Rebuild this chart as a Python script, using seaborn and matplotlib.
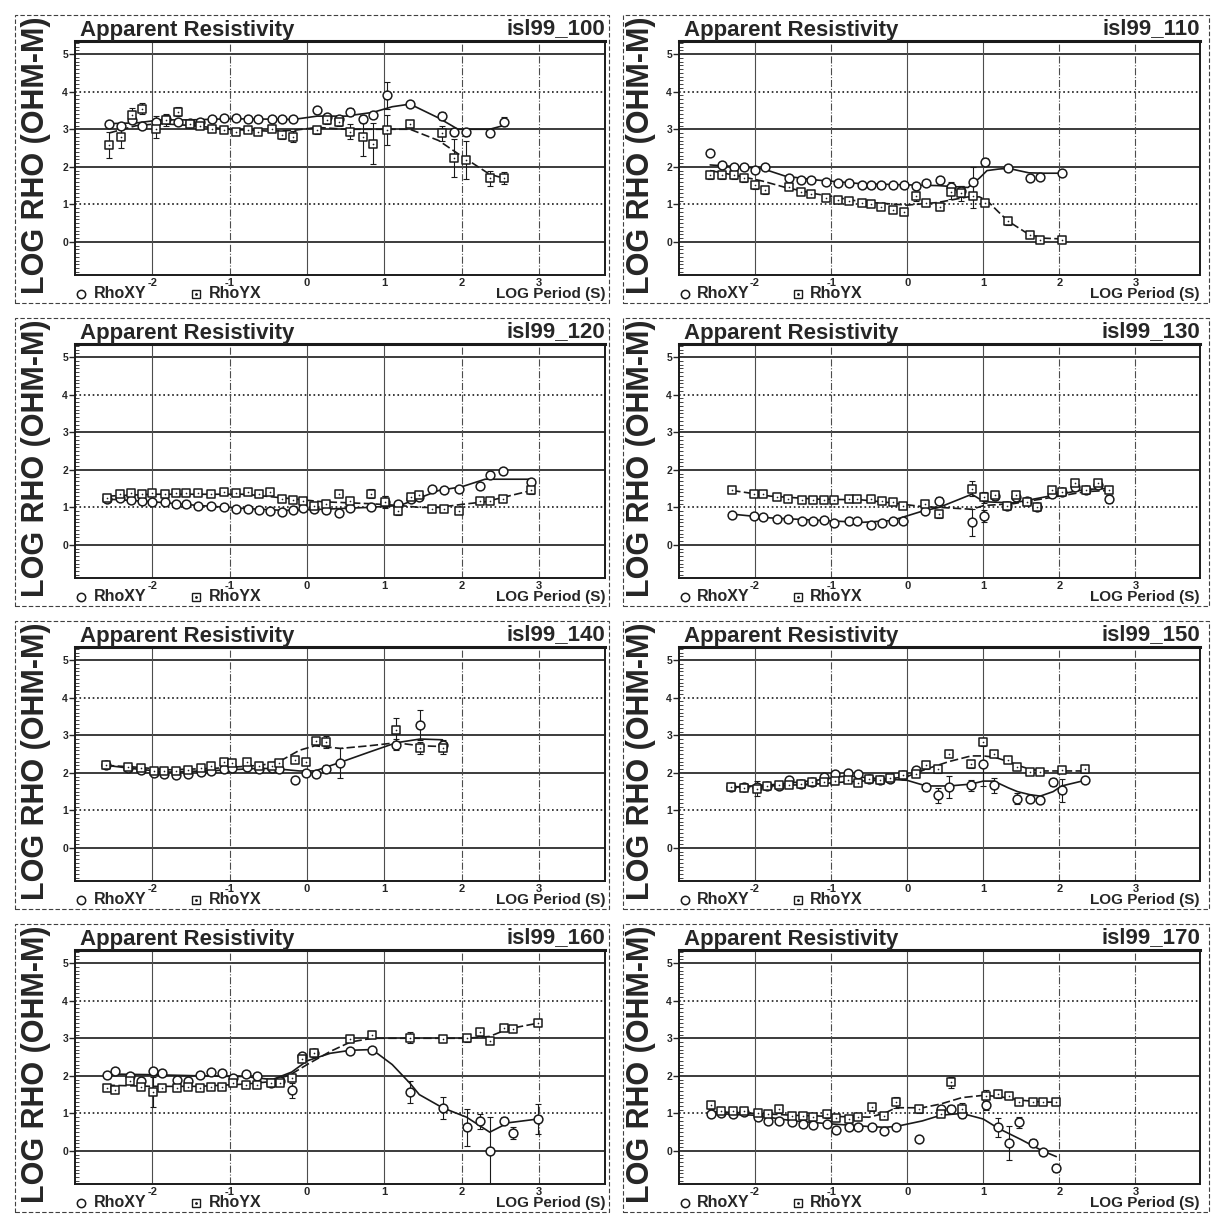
import numpy as np
import pandas as pd
import seaborn as sns
import matplotlib.pyplot as plt
from matplotlib import font_manager
from matplotlib.patches import Rectangle
from matplotlib.ticker import MultipleLocator

nan = np.nan

SITES = ["isl99_100", "isl99_110", "isl99_120", "isl99_130",
         "isl99_140", "isl99_150", "isl99_160", "isl99_170"]

# ---- isl99_100 ----
t100 = [-2.56, -2.41, -2.26, -2.13, -1.95, -1.82, -1.67, -1.52, -1.38, -1.23, -1.08, -0.92, -0.77, -0.64, -0.46,
        -0.33, -0.18, 0.13, 0.26, 0.41, 0.56, 0.72, 0.85, 1.03, 1.33, 1.74, 1.90, 2.05, 2.36, 2.54]
xy100 = [3.15, 3.1, 3.24, 3.1, 3.2, 3.28, 3.2, 3.18, 3.2, 3.28, 3.31, 3.31, 3.28, 3.27, 3.28,
         3.27, 3.28, 3.5, 3.33, 3.28, 3.46, 3.28, 3.37, 3.9, 3.68, 3.35, 2.93, 2.93, 2.89, 3.2]
yx100 = [2.58, 2.8, 3.37, 3.55, 3.02, 3.25, 3.46, 3.15, 3.1, 3.02, 2.98, 2.93, 2.98, 2.93, 3.02,
         2.84, 2.8, 2.98, 3.24, 3.2, 2.93, 2.8, 2.62, 2.98, 3.15, 2.89, 2.23, 2.18, 1.7, 1.7]
exy100 = [0.05, 0.06, 0.08, 0.06, 0.15, 0.05, 0.06, 0.05, 0.05, 0.05, 0.05, 0.05, 0.05, 0.05, 0.05,
          0.05, 0.05, 0.06, 0.08, 0.06, 0.1, 0.1, 0.08, 0.35, 0.06, 0.1, 0.1, 0.1, 0.08, 0.12]
eyx100 = [0.35, 0.3, 0.2, 0.15, 0.25, 0.15, 0.12, 0.1, 0.08, 0.06, 0.06, 0.05, 0.06, 0.05, 0.06,
          0.1, 0.15, 0.1, 0.1, 0.1, 0.2, 0.5, 0.55, 0.4, 0.1, 0.2, 0.5, 0.5, 0.2, 0.15]
mt100 = [-2.56, -2.2, -1.9, -1.5, -1.0, -0.5, -0.18, 0.13, 0.5, 0.85, 1.1, 1.33, 1.7, 1.95, 2.36, 2.54]
mxy100 = [3.15, 3.17, 3.25, 3.25, 3.28, 3.27, 3.26, 3.35, 3.35, 3.45, 3.6, 3.67, 3.3, 3.0, 3.0, 3.1]
myx100 = [2.9, 3.1, 3.15, 3.1, 3.0, 2.95, 2.97, 3.05, 3.0, 3.0, 3.0, 3.0, 2.7, 2.35, 1.8, 1.7]

# ---- isl99_110 ----
t110 = [-2.59, -2.43, -2.28, -2.15, -2.0, -1.87, -1.56, -1.40, -1.27, -1.07, -0.91, -0.76, -0.60, -0.47,
        -0.35, -0.19, -0.04, 0.12, 0.25, 0.43, 0.58, 0.71, 0.87, 1.02, 1.33, 1.61, 1.74, 2.03]
xy110 = [2.38, 2.06, 2.0, 2.0, 1.91, 2.0, 1.69, 1.65, 1.65, 1.6, 1.56, 1.56, 1.52, 1.52,
         1.52, 1.52, 1.52, 1.5, 1.56, 1.65, 1.45, 1.35, 1.6, 2.13, 1.96, 1.69, 1.74, 1.83]
yx110 = [1.78, 1.78, 1.78, 1.69, 1.52, 1.38, 1.47, 1.34, 1.27, 1.16, 1.12, 1.08, 1.03, 1.0,
         0.92, 0.86, 0.81, 1.21, 1.03, 0.94, 1.34, 1.3, 1.21, 1.03, 0.55, 0.19, 0.06, 0.04]
exy110 = [0.05, 0.08, 0.08, 0.06, 0.06, 0.05, 0.08, 0.05, 0.05, 0.05, 0.04, 0.04, 0.04, 0.04,
          0.04, 0.04, 0.04, 0.06, 0.05, 0.08, 0.15, 0.15, 0.4, 0.1, 0.06, 0.06, 0.06, 0.06]
eyx110 = [0.1, 0.1, 0.1, 0.1, 0.1, 0.1, 0.1, 0.06, 0.06, 0.06, 0.05, 0.05, 0.05, 0.05,
          0.05, 0.05, 0.08, 0.12, 0.08, 0.1, 0.2, 0.2, 0.3, 0.08, 0.1, 0.08, 0.08, 0.08]
mt110 = [-2.59, -2.2, -1.9, -1.6, -1.2, -0.6, 0.0, 0.4, 0.8, 0.95, 1.05, 1.2, 1.33, 1.6, 1.8, 2.03]
mxy110 = [2.05, 2.0, 1.95, 1.75, 1.65, 1.55, 1.52, 1.5, 1.45, 1.7, 1.9, 1.94, 1.96, 1.84, 1.83, 1.83]
myx110 = [1.9, 1.75, 1.62, 1.45, 1.28, 1.07, 0.98, 1.05, 1.2, 1.2, 1.1, 0.8, 0.55, 0.2, 0.1, 0.08]

# ---- isl99_120 ----
t120 = [-2.58, -2.42, -2.28, -2.14, -2.0, -1.84, -1.7, -1.57, -1.41, -1.24, -1.08, -0.92, -0.76, -0.62, -0.48,
        -0.32, -0.18, -0.05, 0.09, 0.25, 0.41, 0.55, 0.83, 1.01, 1.18, 1.34, 1.45, 1.61, 1.77, 1.96,
        2.24, 2.37, 2.53, 2.9]
xy120 = [1.23, 1.25, 1.2, 1.18, 1.15, 1.14, 1.1, 1.08, 1.05, 1.03, 1.0, 0.97, 0.95, 0.93, 0.9,
         0.88, 0.93, 0.98, 0.95, 0.93, 0.85, 0.98, 1.02, 1.15, 1.09, 1.23, 1.27, 1.5, 1.45, 1.5,
         1.56, 1.86, 1.97, 1.68]
yx120 = [1.25, 1.36, 1.38, 1.36, 1.38, 1.36, 1.38, 1.38, 1.38, 1.36, 1.41, 1.38, 1.41, 1.35, 1.41,
         1.23, 1.2, 1.18, 1.05, 1.09, 1.35, 1.18, 1.36, 1.14, 0.9, 1.27, 1.32, 0.95, 0.95, 0.91,
         1.18, 1.18, 1.23, 1.45]
exy120 = [0.05, 0.05, 0.05, 0.05, 0.05, 0.05, 0.05, 0.05, 0.05, 0.05, 0.05, 0.05, 0.05, 0.05, 0.05,
          0.05, 0.05, 0.06, 0.06, 0.06, 0.08, 0.06, 0.1, 0.15, 0.08, 0.06, 0.06, 0.06, 0.06, 0.06,
          0.06, 0.06, 0.06, 0.08]
eyx120 = [0.05, 0.05, 0.05, 0.05, 0.05, 0.05, 0.05, 0.05, 0.05, 0.05, 0.05, 0.05, 0.05, 0.05, 0.05,
          0.05, 0.05, 0.06, 0.06, 0.06, 0.08, 0.06, 0.12, 0.15, 0.1, 0.06, 0.06, 0.06, 0.06, 0.06,
          0.06, 0.06, 0.06, 0.1]
mt120 = [-2.58, -2.0, -1.4, -0.8, -0.3, 0.2, 0.8, 1.2, 1.45, 1.7, 2.0, 2.3, 2.6, 2.9]
mxy120 = [1.22, 1.15, 1.05, 0.97, 0.92, 0.95, 1.0, 1.05, 1.25, 1.45, 1.55, 1.75, 1.75, 1.75]
myx120 = [1.3, 1.35, 1.35, 1.35, 1.25, 1.15, 1.1, 1.05, 1.0, 1.0, 1.08, 1.15, 1.3, 1.45]

# ---- isl99_130 ----
t130 = [-2.30, -2.02, -1.90, -1.71, -1.57, -1.38, -1.24, -1.10, -0.96, -0.77, -0.66, -0.47, -0.33, -0.19, -0.05,
        0.23, 0.42, 0.85, 1.01, 1.15, 1.31, 1.43, 1.57, 1.71, 1.90, 2.04, 2.21, 2.35, 2.51, 2.65]
xy130 = [0.8, 0.77, 0.75, 0.68, 0.68, 0.65, 0.65, 0.66, 0.59, 0.64, 0.64, 0.53, 0.59, 0.64, 0.64,
         0.91, 1.18, 0.6, 0.77, 1.3, 1.05, 1.27, 1.18, 1.0, 1.36, 1.41, 1.55, 1.45, 1.59, 1.23]
yx130 = [1.45, 1.36, 1.36, 1.27, 1.23, 1.2, 1.2, 1.2, 1.2, 1.23, 1.22, 1.23, 1.18, 1.14, 1.05,
         1.09, 0.82, 1.5, 1.27, 1.32, 1.05, 1.32, 1.15, 1.0, 1.45, 1.4, 1.64, 1.45, 1.64, 1.45]
exy130 = [0.04, 0.04, 0.04, 0.04, 0.04, 0.04, 0.04, 0.04, 0.04, 0.04, 0.04, 0.04, 0.04, 0.04, 0.04,
          0.06, 0.1, 0.35, 0.15, 0.1, 0.08, 0.08, 0.06, 0.06, 0.06, 0.06, 0.08, 0.06, 0.06, 0.1]
eyx130 = [0.04, 0.04, 0.04, 0.04, 0.04, 0.04, 0.04, 0.04, 0.04, 0.04, 0.04, 0.04, 0.04, 0.04, 0.04,
          0.06, 0.1, 0.2, 0.15, 0.1, 0.1, 0.08, 0.06, 0.06, 0.06, 0.08, 0.1, 0.06, 0.08, 0.08]
mt130 = [-2.3, -1.8, -1.2, -0.6, -0.2, 0.2, 0.42, 0.85, 1.01, 1.4, 2.0, 2.35, 2.65]
mxy130 = [0.82, 0.72, 0.66, 0.6, 0.65, 0.9, 1.0, 1.35, 1.15, 1.12, 1.35, 1.48, 1.5]
myx130 = [1.45, 1.3, 1.22, 1.2, 1.12, 1.02, 1.0, 0.95, 1.05, 1.1, 1.3, 1.42, 1.45]

# ---- isl99_140 ----
t140 = [-2.6, -2.31, -2.15, -1.98, -1.85, -1.7, -1.54, -1.37, -1.24, -1.08, -0.97, -0.78,
        -0.62, -0.45, -0.36, -0.16, -0.01, 0.12, 0.25, 0.43, 1.15, 1.46, 1.75]
xy140 = [2.2, 2.12, 2.08, 2.0, 1.98, 1.95, 1.98, 2.02, 2.05, 2.1, 2.12, 2.15,
         2.1, 2.12, 2.1, 1.81, 2.0, 1.98, 2.1, 2.25, 2.75, 3.28, 2.75]
yx140 = [2.2, 2.15, 2.12, 2.05, 2.05, 2.04, 2.08, 2.13, 2.17, 2.3, 2.26, 2.3,
         2.17, 2.17, 2.26, 2.35, 2.3, 2.84, 2.82, nan, 3.15, 2.66, 2.66]
exy140 = [0.04, 0.05, 0.08, 0.05, 0.1, 0.05, 0.05, 0.05, 0.05, 0.08, 0.05, 0.05,
          0.05, 0.05, 0.05, 0.08, 0.06, 0.06, 0.1, 0.4, 0.15, 0.4, 0.12]
eyx140 = [0.04, 0.05, 0.05, 0.08, 0.05, 0.05, 0.05, 0.05, 0.05, 0.08, 0.08, 0.06,
          0.05, 0.05, 0.05, 0.05, 0.08, 0.1, 0.15, nan, 0.3, 0.15, 0.15]
mt140 = [-2.6, -2.2, -1.8, -1.2, -0.6, -0.36, -0.1, 0.1, 0.43, 0.8, 1.15, 1.46, 1.75]
mxy140 = [2.2, 2.1, 2.02, 2.06, 2.12, 2.1, 2.05, 2.05, 2.28, 2.55, 2.8, 2.9, 2.88]
myx140 = [2.2, 2.15, 2.08, 2.12, 2.2, 2.3, 2.6, 2.72, 2.65, 2.72, 2.8, 2.72, 2.7]

# ---- isl99_150 ----
t150 = [-2.31, -2.15, -1.98, -1.84, -1.68, -1.56, -1.39, -1.25, -1.09, -0.95, -0.78, -0.64, -0.5, -0.36, -0.22,
        -0.06, 0.11, 0.25, 0.41, 0.55, 0.84, 1.0, 1.14, 1.33, 1.45, 1.61, 1.75, 1.92, 2.03, 2.34]
xy150 = [1.62, 1.62, 1.62, 1.66, 1.66, 1.8, 1.71, 1.76, 1.89, 1.98, 2.0, 1.98, 1.84, 1.8, 1.84,
         1.95, 2.07, 1.62, 1.4, 1.62, 1.67, 2.24, 1.67, nan, 1.31, 1.31, 1.27, 1.76, 1.53, 1.8]
yx150 = [1.62, 1.6, 1.58, 1.65, 1.67, 1.67, 1.71, 1.75, 1.75, 1.78, 1.8, 1.72, 1.84, 1.82, 1.86,
         1.95, 1.98, 2.2, 2.1, 2.51, 2.24, 2.82, 2.51, 2.33, 2.16, 2.02, 2.02, nan, 2.07, 2.11]
exy150 = [0.05, 0.05, 0.05, 0.05, 0.05, 0.05, 0.05, 0.05, 0.05, 0.05, 0.05, 0.05, 0.05, 0.05, 0.05,
          0.06, 0.06, 0.1, 0.2, 0.3, 0.15, 0.6, 0.2, nan, 0.15, 0.08, 0.08, 0.1, 0.3, 0.08]
eyx150 = [0.05, 0.05, 0.2, 0.05, 0.05, 0.05, 0.05, 0.05, 0.05, 0.05, 0.05, 0.05, 0.05, 0.05, 0.06,
          0.06, 0.06, 0.1, 0.1, 0.1, 0.1, 0.1, 0.08, 0.08, 0.08, 0.06, 0.06, nan, 0.08, 0.08]
mt150 = [-2.31, -1.8, -1.2, -0.8, -0.4, 0.0, 0.25, 0.55, 0.84, 1.0, 1.14, 1.33, 1.45, 1.61, 1.75, 1.92, 2.03, 2.34]
mxy150 = [1.62, 1.68, 1.8, 1.92, 1.85, 1.8, 1.65, 1.65, 1.7, 1.78, 1.78, 1.6, 1.5, 1.42, 1.38, 1.5, 1.65, 1.8]
myx150 = [1.62, 1.65, 1.7, 1.76, 1.8, 1.9, 2.1, 2.3, 2.45, 2.45, 2.42, 2.3, 2.2, 2.1, 2.05, 2.05, 2.05, 2.05]

# ---- isl99_160 ----
t160 = [-2.59, -2.48, -2.29, -2.15, -1.99, -1.87, -1.68, -1.54, -1.38, -1.24, -1.1, -0.96, -0.79, -0.65, -0.47,
        -0.35, -0.19, -0.07, 0.09, 0.56, 0.84, 1.33, 1.75, 2.06, 2.24, 2.36, 2.55, 2.66, 2.98]
xy160 = [2.03, 2.12, 2.0, 1.85, 2.12, 2.07, 1.89, 1.86, 2.03, 2.1, 2.07, 1.95, 2.05, 2.0, 1.8,
         1.85, 1.62, 2.52, 2.61, 2.65, 2.7, 1.57, 1.14, 0.63, 0.79, 0.0, 0.81, 0.48, 0.86]
yx160 = [1.67, 1.62, 1.85, 1.71, 1.58, 1.67, 1.67, 1.7, 1.67, 1.7, 1.71, 1.8, 1.76, 1.76, 1.8,
         1.8, 1.94, 2.45, 2.62, 2.97, 3.1, 3.02, 2.97, 3.0, 3.17, 2.93, 3.27, 3.24, 3.4]
exy160 = [0.05, 0.05, 0.05, 0.05, 0.05, 0.05, 0.05, 0.05, 0.05, 0.05, 0.05, 0.05, 0.05, 0.05, 0.05,
          0.05, 0.2, 0.06, 0.08, 0.06, 0.06, 0.3, 0.3, 0.5, 0.2, 0.9, 0.1, 0.15, 0.4]
eyx160 = [0.05, 0.05, 0.05, 0.05, 0.4, 0.05, 0.05, 0.05, 0.05, 0.05, 0.05, 0.05, 0.05, 0.05, 0.05,
          0.05, 0.08, 0.08, 0.1, 0.08, 0.08, 0.15, 0.06, 0.1, 0.1, 0.08, 0.06, 0.06, 0.06]
mt160 = [-2.59, -2.0, -1.4, -0.8, -0.45, -0.2, 0.0, 0.3, 0.56, 0.84, 1.1, 1.33, 1.45, 1.75, 2.06, 2.36, 2.6, 2.98]
mxy160 = [2.05, 2.03, 2.0, 1.98, 1.9, 2.1, 2.4, 2.6, 2.68, 2.7, 2.3, 1.8, 1.5, 1.15, 0.9, 0.5, 0.75, 0.85]
myx160 = [1.75, 1.72, 1.72, 1.78, 1.85, 2.05, 2.3, 2.65, 2.9, 3.0, 3.0, 3.0, 3.0, 3.0, 3.0, 3.05, 3.25, 3.4]

# ---- isl99_170 ----
t170 = [-2.58, -2.45, -2.29, -2.14, -1.96, -1.83, -1.68, -1.52, -1.37, -1.24, -1.06, -0.93, -0.77, -0.64,
        -0.46, -0.31, -0.15, 0.15, 0.44, 0.57, 0.72, 1.03, 1.19, 1.34, 1.47, 1.65, 1.78, 1.96]
xy170 = [0.98, 1.01, 0.98, 1.03, 0.91, 0.8, 0.8, 0.76, 0.73, 0.7, 0.71, 0.55, 0.63, 0.63,
         0.63, 0.54, 0.64, 0.31, 1.12, 1.12, 0.98, 1.23, 0.63, 0.22, 0.76, 0.22, -0.04, -0.45]
yx170 = [1.21, 1.07, 1.07, 1.07, 1.0, 0.98, 1.12, 0.94, 0.92, 0.9, 0.98, 0.89, 0.85, 0.9,
         1.16, 0.94, 1.29, 1.12, 0.98, 1.83, 1.12, 1.47, 1.52, 1.47, 1.29, 1.29, 1.29, 1.29]
exy170 = [0.05, 0.05, 0.05, 0.05, 0.05, 0.05, 0.05, 0.05, 0.05, 0.05, 0.05, 0.08, 0.05, 0.05,
          0.05, 0.05, 0.05, 0.05, 0.08, 0.1, 0.1, 0.15, 0.25, 0.45, 0.15, 0.1, 0.06, 0.1]
eyx170 = [0.1, 0.05, 0.05, 0.05, 0.05, 0.05, 0.1, 0.05, 0.05, 0.05, 0.1, 0.05, 0.05, 0.05,
          0.1, 0.05, 0.15, 0.1, 0.08, 0.15, 0.15, 0.15, 0.1, 0.08, 0.08, 0.06, 0.06, 0.06]
mt170 = [-2.58, -2.0, -1.5, -1.0, -0.5, -0.3, -0.15, 0.2, 0.44, 0.72, 1.0, 1.2, 1.5, 1.78, 1.96]
mxy170 = [1.0, 0.95, 0.8, 0.72, 0.65, 0.63, 0.65, 0.8, 0.95, 1.0, 0.85, 0.6, 0.3, 0.0, -0.15]
myx170 = [1.05, 1.0, 0.95, 0.92, 0.9, 1.0, 1.15, 1.15, 1.25, 1.42, 1.48, 1.45, 1.35, 1.3, 1.3]

PANELS = [
    (t100, xy100, yx100, exy100, eyx100, mt100, mxy100, myx100),
    (t110, xy110, yx110, exy110, eyx110, mt110, mxy110, myx110),
    (t120, xy120, yx120, exy120, eyx120, mt120, mxy120, myx120),
    (t130, xy130, yx130, exy130, eyx130, mt130, mxy130, myx130),
    (t140, xy140, yx140, exy140, eyx140, mt140, mxy140, myx140),
    (t150, xy150, yx150, exy150, eyx150, mt150, mxy150, myx150),
    (t160, xy160, yx160, exy160, eyx160, mt160, mxy160, myx160),
    (t170, xy170, yx170, exy170, eyx170, mt170, mxy170, myx170),
]

XTICKS = [-2, -1, 0, 1, 2, 3]
YTICKS = [0, 1, 2, 3, 4, 5]

sns.set_theme(style="white")
names = {f.name for f in font_manager.fontManager.ttflist}
base = "Liberation Sans" if "Liberation Sans" in names else "DejaVu Sans"
plt.rcParams["font.family"] = [base, "DejaVu Sans"]
plt.rcParams["font.weight"] = "bold"
if "Liberation Sans Narrow" in names:
    ylab_font, ylab_size = "Liberation Sans Narrow", 26
else:
    ylab_font, ylab_size = base, 22

W = H = 1232
fig = plt.figure(figsize=(12.32, 12.32), dpi=100)

AX_X = [(75, 605), (679, 1200)]
FRAME_X = [(15, 609), (623, 1209)]
YLAB_X = [36, 641]
ROW = 303
H_LS = ['-', ':', '-', '-', ':', '-']
V_LS = ['-', '-.', '-', '-', '-.', '-.']

for i, site in enumerate(SITES):
    t, xy, yx, exy, eyx, mt, mxy, myx = PANELS[i]
    r, c = divmod(i, 2)
    x0, x1 = AX_X[c]
    top, bot = 41 + ROW * r, 275 + ROW * r
    ax = fig.add_axes([x0 / W, 1 - bot / H, (x1 - x0) / W, (bot - top) / H])

    fl, fr = FRAME_X[c]
    fig.patches.append(Rectangle((fl / W, 1 - (303 + ROW * r) / H), (fr - fl) / W, 288 / H,
                                 transform=fig.transFigure, fill=False, lw=0.8,
                                 ls=(0, (4, 2)), ec='0.25'))
    fig.text(YLAB_X[c] / W, 1 - (155 + ROW * r) / H, "LOG RHO (OHM-M)", rotation=90,
             ha='center', va='center', fontsize=ylab_size, fontweight='bold', family=ylab_font)

    for yv, ls in zip(YTICKS, H_LS):
        ax.axhline(yv, color='k', lw=1.2, ls=ls, zorder=1)
    for xv, ls in zip(XTICKS, V_LS):
        ax.axvline(xv, color='0.3', lw=0.8, ls=ls, zorder=1)

    ax.errorbar(t, xy, yerr=exy, fmt='none', ecolor='k', elinewidth=0.8, capsize=2, capthick=0.8, zorder=3)
    ax.errorbar(t, yx, yerr=eyx, fmt='none', ecolor='k', elinewidth=0.8, capsize=2, capthick=0.8, zorder=3)
    sns.lineplot(x=mt, y=mxy, ax=ax, color='k', linewidth=1.2, estimator=None, sort=False, zorder=3)
    sns.lineplot(x=mt, y=myx, ax=ax, color='k', linewidth=1.2, estimator=None, sort=False,
                 linestyle=(0, (5, 2)), zorder=3)
    sns.scatterplot(x=t, y=xy, ax=ax, marker='o', s=40, color='white', edgecolor='k',
                    linewidth=1.1, zorder=4, legend=False)
    sns.scatterplot(x=t, y=yx, ax=ax, marker='s', s=36, color='white', edgecolor='k',
                    linewidth=1.1, zorder=5, legend=False)
    sns.scatterplot(x=t, y=yx, ax=ax, marker='.', s=6, color='k', edgecolor='k',
                    linewidth=0, zorder=6, legend=False)

    ax.set_xlim(-3, 3.85)
    ax.set_ylim(-0.88, 5.35)
    ax.set_xlabel('')
    ax.set_ylabel('')
    ax.set_xticks(XTICKS)
    ax.set_xticklabels([str(v) for v in XTICKS], fontsize=8, fontweight='bold')
    ax.set_yticks(YTICKS)
    ax.set_yticklabels([str(v) for v in YTICKS], fontsize=7.5, fontweight='bold')
    ax.tick_params(axis='x', length=0, pad=2)
    ax.tick_params(axis='y', which='major', length=4, width=1, direction='out', pad=1, left=True)
    ax.yaxis.set_minor_locator(MultipleLocator(0.1))
    ax.tick_params(axis='y', which='minor', length=3, width=0.6, direction='in', left=True)
    for s in ax.spines.values():
        s.set_color('k')
        s.set_linewidth(1.4)
    ax.spines['top'].set_linewidth(2.2)

    ax.text(0.01, 1.02, "Apparent Resistivity", transform=ax.transAxes, ha='left',
            va='baseline', fontsize=16, fontweight='bold')
    ax.text(1.0, 1.03, site, transform=ax.transAxes, ha='right', va='baseline',
            fontsize=16, fontweight='bold')

    ly = -0.08
    ax.plot([0.012], [ly], marker='o', ms=6, mfc='white', mec='k', mew=1.1,
            transform=ax.transAxes, clip_on=False)
    ax.text(0.035, ly, "RhoXY", transform=ax.transAxes, ha='left', va='center',
            fontsize=11.5, fontweight='bold')
    ax.plot([0.228], [ly], marker='s', ms=5.5, mfc='white', mec='k', mew=1.0,
            transform=ax.transAxes, clip_on=False)
    ax.plot([0.228], [ly], marker='.', ms=2, color='k', transform=ax.transAxes, clip_on=False)
    ax.text(0.252, ly, "RhoYX", transform=ax.transAxes, ha='left', va='center',
            fontsize=11.5, fontweight='bold')
    ax.text(1.0, ly, "LOG Period (S)", transform=ax.transAxes, ha='right', va='center',
            fontsize=11, fontweight='bold')

fig.savefig("out.png", dpi=100)
